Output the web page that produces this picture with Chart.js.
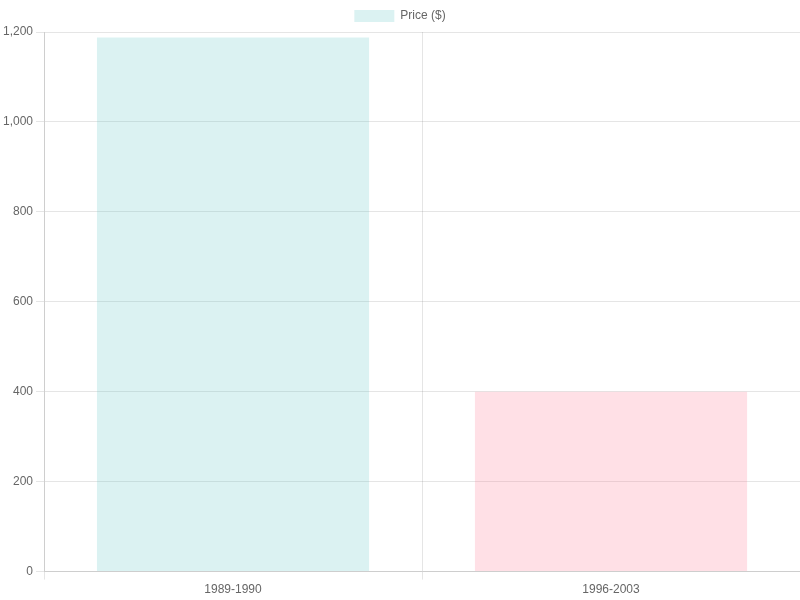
<!DOCTYPE html>
<html lang="en">
<head>
    <meta charset="UTF-8">
    <title>Price chart</title>
    <script src="https://cdn.jsdelivr.net/npm/chart.js"></script>
    <style>
        html, body { margin: 0; padding: 0; background: #fff; }
        .wrap { width: 800px; height: 600px; }
    </style>
</head>
<body>
<div class="wrap"><canvas id="priceChart"></canvas></div>
<script>
    var periods = ["1989-1990", "1996-2003"];
    var prices = [1188, 400];
    var barColors = ["rgba(75, 192, 192, 0.2)", "rgba(255, 99, 132, 0.2)"];

    new Chart(document.getElementById("priceChart"), {
        type: "bar",
        data: {
            labels: periods,
            datasets: [{
                label: "Price ($)",
                data: prices,
                backgroundColor: barColors,
                borderWidth: 0
            }]
        },
        options: {
            responsive: true,
            maintainAspectRatio: false,
            animation: false,
            scales: {
                y: {
                    beginAtZero: true,
                    max: 1200,
                    ticks: { stepSize: 200 }
                }
            }
        }
    });
</script>
</body>
</html>
